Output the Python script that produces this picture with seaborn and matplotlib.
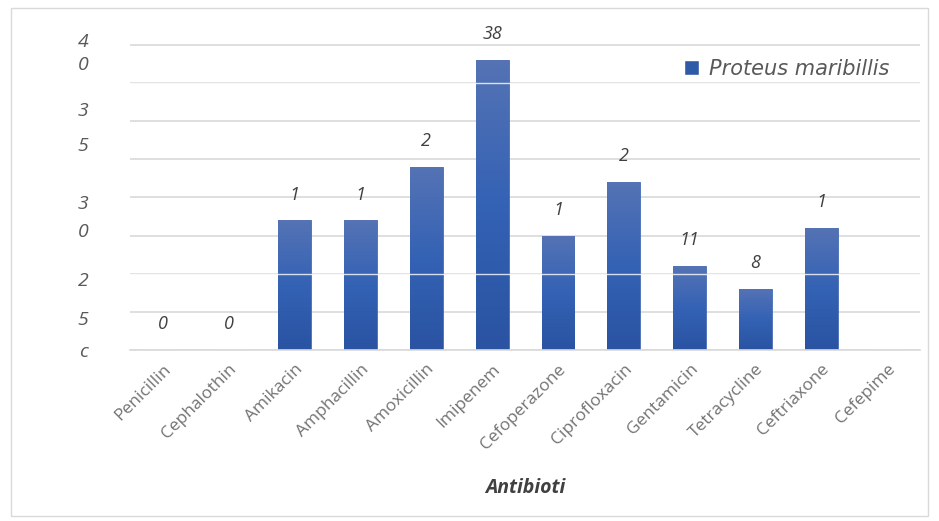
import numpy as np
import pandas as pd
import matplotlib
matplotlib.use("Agg")
import matplotlib.pyplot as plt
from matplotlib.colors import LinearSegmentedColormap
import seaborn as sns

# ---- data ----
antibiotics = ["Penicillin", "Cephalothin", "Amikacin", "Amphacillin", "Amoxicillin",
               "Imipenem", "Cefoperazone", "Ciprofloxacin", "Gentamicin",
               "Tetracycline", "Ceftriaxone", "Cefepime"]
counts = [0, 0, 17, 17, 24, 38, 15, 22, 11, 8, 16, 0]
bar_labels = ["0", "0", "1", "1", "2", "38", "1", "2", "11", "8", "1", ""]
series_name = "Proteus maribillis"
x_title = "Antibioti"
grid_values = [0, 5, 10, 15, 20, 25, 30, 35, 40]
ytick_pos = [0.02, 4.2, 9.3, 15.7, 19.4, 27, 31.6, 37.6, 40.6]
ytick_text = ["c", "5", "2", "0", "3", "5", "3", "0", "4"]

df = pd.DataFrame({"Antibiotic": antibiotics, "Count": counts})

sns.set_theme(style="white")
plt.rcParams["font.family"] = ["Open Sans", "DejaVu Sans"]

fig = plt.figure(figsize=(9.39, 5.21), dpi=100)
ax = fig.add_axes([0.1384, 0.328, 0.8416, 0.595])

base = "#2F5AA8"
sns.barplot(data=df, x="Antibiotic", y="Count", color=base, width=0.5,
            saturation=1, ax=ax, label=series_name, zorder=2)

# gradient fill inside bars
cmap = LinearSegmentedColormap.from_list("g", ["#2A53A2", "#3462B4", "#5573B5"])
grad = np.linspace(0, 1, 256).reshape(-1, 1)
for p in ax.patches:
    h = p.get_height()
    if h <= 0:
        continue
    x0 = p.get_x(); w = p.get_width()
    im = ax.imshow(grad, extent=[x0, x0 + w, 0, h], origin="lower", aspect="auto",
                   cmap=cmap, zorder=2.5)
    im.set_clip_path(p)
    p.set_edgecolor("#4A6DB5")
    p.set_linewidth(0.6)

ax.set_xlim(-0.5, len(antibiotics) - 0.5)
ax.set_ylim(0, 40)

# gridlines (major) and garbled tick labels (minor)
ax.set_yticks(grid_values)
ax.set_yticklabels([""] * len(grid_values))
ax.set_yticks(ytick_pos, minor=True)
ax.set_yticklabels(ytick_text, minor=True, fontsize=14, color="#595959",
                   fontstyle="italic")
ax.yaxis.grid(True, which="major", color="#D9D9D9", linewidth=1.2, zorder=0)
ax.set_axisbelow(True)
ax.tick_params(axis="y", which="both", length=0, pad=30)
for w in [10, 35]:
    ax.axhline(w, color="white", linewidth=1.0, zorder=3, alpha=0.8)

ax.set_xticks(range(len(antibiotics)))
ax.set_xticklabels(antibiotics, rotation=45, ha="right", rotation_mode="anchor",
                   fontsize=12.5, color="#737373")
ax.tick_params(axis="x", length=0, pad=8)

for s in ["top", "right", "left"]:
    ax.spines[s].set_visible(False)
ax.spines["bottom"].set_color("#D9D9D9")
ax.spines["bottom"].set_linewidth(1.2)

for i, (v, t) in enumerate(zip(counts, bar_labels)):
    if t:
        ax.annotate(t, (i, v), xytext=(0, 12), textcoords="offset points",
                    ha="center", va="bottom", fontsize=13, color="#404040",
                    fontstyle="italic")

ax.set_xlabel(x_title, fontsize=14, color="#404040", fontweight="bold",
              fontstyle="italic", labelpad=18)
ax.set_ylabel("")

leg = ax.legend(loc="upper right", bbox_to_anchor=(0.985, 1.0), frameon=False,
                handlelength=0.7, handleheight=0.7, handletextpad=0.5,
                prop={"family": "DejaVu Sans", "size": 15, "style": "italic"})
for txt in leg.get_texts():
    txt.set_color("#595959")

fig.patches.append(plt.Rectangle((0.012, 0.01), 0.976, 0.975, transform=fig.transFigure,
                                 fill=False, edgecolor="#D9D9D9", linewidth=1))

fig.savefig("out.png", dpi=100)
